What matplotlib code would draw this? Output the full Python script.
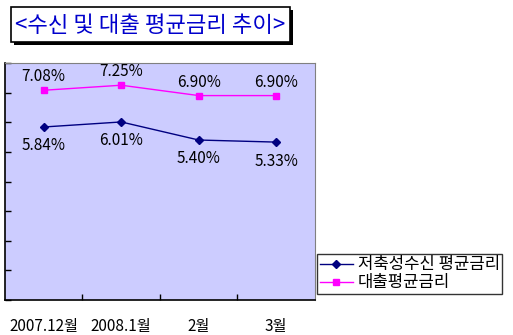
import matplotlib.pyplot as plt
from matplotlib.patches import Rectangle

plt.rcParams['font.family'] = ['Noto Sans CJK KR', 'DejaVu Sans']

months = ["2007.12월", "2008.1월", "2월", "3월"]
deposit_rate = [5.84, 6.01, 5.40, 5.33]
loan_rate = [7.08, 7.25, 6.90, 6.90]
series_names = ["저축성수신 평균금리", "대출평균금리"]
title = "<수신 및 대출 평균금리 추이>"

W, H = 513, 335
fig = plt.figure(figsize=(W / 100, H / 100), dpi=100)

# plot area in pixel coords: x 5..315, y 63..300
ax = fig.add_axes([5 / W, 1 - 300 / H, 310 / W, 237 / H])
ax.set_facecolor("#ccccff")

x = range(len(months))
ax.plot(x, deposit_rate, color="#000080", marker="D", markersize=4, lw=1,
        label=series_names[0])
ax.plot(x, loan_rate, color="#ff00ff", marker="s", markersize=5, lw=1,
        label=series_names[1])

for i, v in enumerate(loan_rate):
    ax.annotate(f"{v:.2f}%", (i, v), xytext=(0, 3.5), textcoords="offset points",
                ha="center", va="bottom", fontsize=11, color="black")
for i, v in enumerate(deposit_rate):
    ax.annotate(f"{v:.2f}%", (i, v), xytext=(0, -7.5), textcoords="offset points",
                ha="center", va="top", fontsize=11, color="black")

ax.set_xlim(-0.5, 3.5)
ax.set_ylim(0, 8)
ax.set_yticks(range(0, 9))
ax.set_yticklabels([])
ax.set_xticks([0.5, 1.5, 2.5])
ax.set_xticklabels([])
ax.tick_params(axis="both", direction="in", length=4, width=1, color="black")

for i, m in enumerate(months):
    ax.text(i, -0.6, m, ha="center", va="top", fontsize=11,
            transform=ax.transData)

for side in ("top", "right"):
    ax.spines[side].set_color("#808080")
for side in ("left", "bottom"):
    ax.spines[side].set_color("black")
    ax.spines[side].set_linewidth(1.2)

leg = ax.legend(loc="upper left", bbox_to_anchor=(317 / W, 1 - 254 / H),
                bbox_transform=fig.transFigure, frameon=True, fancybox=False,
                fontsize=12, handlelength=2.0, borderpad=0.15, labelspacing=0.05,
                handletextpad=0.3, borderaxespad=0)
leg.get_frame().set_edgecolor("black")
leg.get_frame().set_linewidth(1)

# title box with shadow
fig.patches.append(Rectangle((14 / W, 1 - 45 / H), 279 / W, 35 / H,
                             transform=fig.transFigure, facecolor="black",
                             edgecolor="none"))
fig.patches.append(Rectangle((11 / W, 1 - 42 / H), 279 / W, 35 / H,
                             transform=fig.transFigure, facecolor="white",
                             edgecolor="black", lw=1.2))
fig.text(150 / W, 1 - 25 / H, title, ha="center", va="center", fontsize=16,
         color="#0000cc")

fig.savefig("out.png", dpi=100)
